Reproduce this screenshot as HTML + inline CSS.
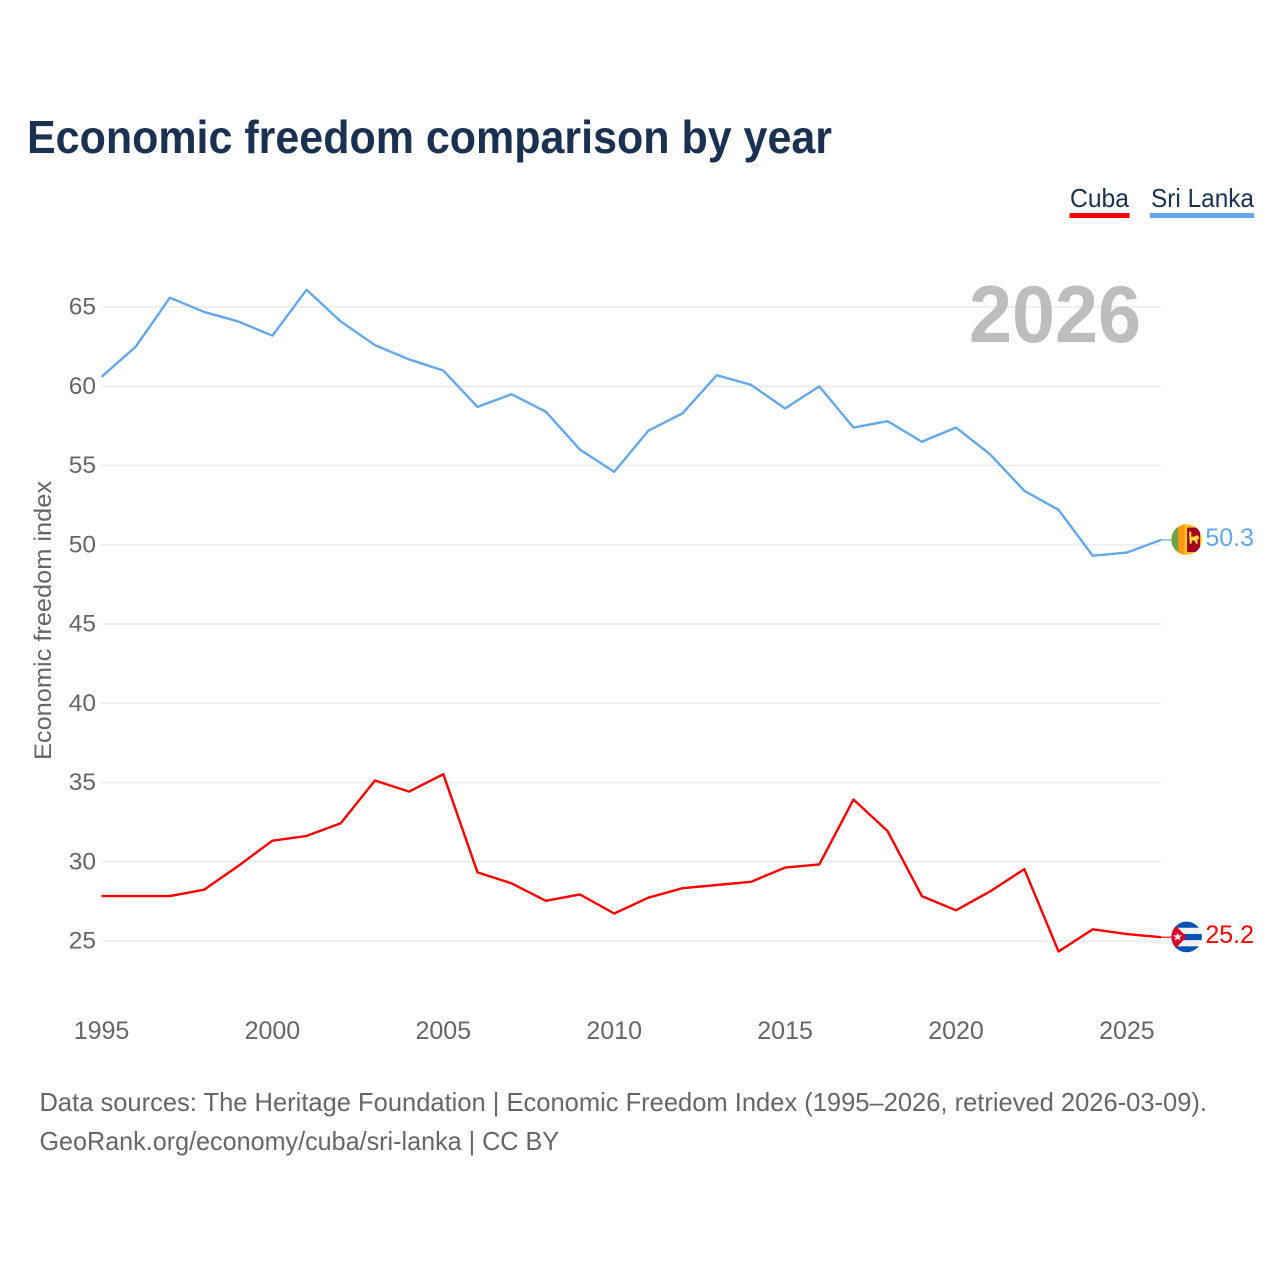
<!DOCTYPE html>
<html lang="en">
<head>
<meta charset="utf-8">
<title>Economic freedom comparison by year</title>
<style>
html,body{margin:0;padding:0;background:#fff;width:1280px;height:1280px;overflow:hidden}
svg{display:block}
text{font-family:"Liberation Sans",sans-serif}
</style>
</head>
<body>
<svg id="chart" xmlns="http://www.w3.org/2000/svg" width="1280" height="1280" viewBox="0 0 1280 1280">
  <defs>
    <clipPath id="flag-clip"><circle cx="0" cy="0" r="15.3"/></clipPath>
  </defs>
  <text x="27" y="153" font-size="46" font-weight="700" fill="#1a3152" textLength="805" lengthAdjust="spacingAndGlyphs">Economic freedom comparison by year</text>
  <g>
    <g>
      <text x="1070" y="207" font-size="26" fill="#1a3152" textLength="59" lengthAdjust="spacingAndGlyphs">Cuba</text>
      <rect x="1069.500" y="213" width="60" height="5" fill="#ff0000"/>
    </g>
    <g>
      <text x="1151" y="207" font-size="26" fill="#1a3152" textLength="103" lengthAdjust="spacingAndGlyphs">Sri Lanka</text>
      <rect x="1150" y="213" width="104" height="5" fill="#63a8ec"/>
    </g>
  </g>
  <g id="grid"></g>
  <text x="969" y="342" font-size="81" font-weight="700" fill="#bdbdbd" textLength="172" lengthAdjust="spacingAndGlyphs">2026</text>
  <g id="y-ticks"></g>
  <g id="x-ticks"></g>
  <text transform="translate(51,620.5) rotate(-90)" text-anchor="middle" font-size="24" fill="#666666" textLength="279" lengthAdjust="spacingAndGlyphs">Economic freedom index</text>
  <g id="series"></g>
  <g id="flag-sri-lanka">
    <g clip-path="url(#flag-clip)">
      <rect x="-16" y="-16" width="32" height="32" fill="#ffc629"/>
      <rect x="-16" y="-16" width="9.500" height="32" fill="#6da544"/>
      <rect x="-8.500" y="-16" width="6.500" height="32" fill="#ff9811"/>
      <rect x="0.500" y="-12" width="13" height="24.500" fill="#a2001d"/>
      <path d="M2.500-8h2.200v5h3l1-1h3l1 3-2 1 .5 4h-2l-1-3h-3v3h-2.200z" fill="#ffda44"/>
    </g>
  </g>
  <g id="flag-cuba">
    <g clip-path="url(#flag-clip)">
      <rect x="-16" y="-16" width="32" height="32" fill="#f0f0f0"/>
      <rect x="-16" y="-16" width="32" height="6.800" fill="#0052b4"/>
      <rect x="-16" y="-3" width="32" height="6.200" fill="#0052b4"/>
      <rect x="-16" y="9.400" width="32" height="6.800" fill="#0052b4"/>
      <path d="M-16-16.500L0 0L-16 16.500Z" fill="#d80027"/>
      <path d="M-9-4.500l1.200 3h3.300l-2.600 2 1 3.200-2.900-1.900-2.900 1.900 1-3.200-2.600-2h3.300z" fill="#f0f0f0"/>
    </g>
  </g>
  <g>
    <text x="39.500" y="1111" font-size="26" fill="#666666" textLength="1167.500" lengthAdjust="spacingAndGlyphs">Data sources: The Heritage Foundation | Economic Freedom Index (1995–2026, retrieved 2026-03-09).</text>
    <text x="39.500" y="1150" font-size="26" fill="#666666" textLength="519.500" lengthAdjust="spacingAndGlyphs">GeoRank.org/economy/cuba/sri-lanka | CC BY</text>
  </g>
</svg>
<script>
const years = [1995,1996,1997,1998,1999,2000,2001,2002,2003,2004,2005,2006,2007,2008,2009,2010,2011,2012,2013,2014,2015,2016,2017,2018,2019,2020,2021,2022,2023,2024,2025,2026];
const sriLankaValues = [60.6,62.5,65.6,64.7,64.1,63.2,66.1,64.1,62.6,61.7,61.0,58.7,59.5,58.4,56.0,54.6,57.2,58.3,60.7,60.1,58.6,60.0,57.4,57.8,56.5,57.4,55.7,53.4,52.2,49.3,49.5,50.3];
const cubaValues = [27.8,27.8,27.8,28.2,29.7,31.3,31.6,32.4,35.1,34.4,35.5,29.3,28.6,27.5,27.9,26.7,27.7,28.3,28.5,28.7,29.6,29.8,33.9,31.9,27.8,26.9,28.1,29.5,24.3,25.7,25.4,25.2];
const yTickValues = [25,30,35,40,45,50,55,60,65];
const xTickValues = [1995,2000,2005,2010,2015,2020,2025];

const NS = 'http://www.w3.org/2000/svg';
const xScale = function (year) { return 101.5 + (year - 1995) * 34.18; };
const yScale = function (value) { return 941 - (value - 25) * 15.85; };
const yLine = function (value) { return 940.4 - (value - 25) * 15.83; };

function make(tag, parent) {
  const el = document.createElementNS(NS, tag);
  parent.appendChild(el);
  return el;
}

const gridGroup = document.getElementById('grid');
const yTickGroup = document.getElementById('y-ticks');
yTickValues.forEach(function (value) {
  const line = make('line', gridGroup);
  
  
  line.setAttribute('x1', xScale(1995));
  line.setAttribute('x2', xScale(2026));
  line.setAttribute('y1', yScale(value));
  line.setAttribute('y2', yScale(value));
  line.setAttribute('stroke', '#ebebeb');
  line.setAttribute('stroke-width', '1.5');
  const label = make('text', yTickGroup);
  
  
  label.setAttribute('x', 96);
  label.setAttribute('y', yScale(value) + 7.5);
  label.setAttribute('text-anchor', 'end');
  label.setAttribute('font-size', '24.5');
  label.setAttribute('fill', '#666666');
  label.textContent = value;
});

const xTickGroup = document.getElementById('x-ticks');
xTickValues.forEach(function (year) {
  const label = make('text', xTickGroup);
  
  
  label.setAttribute('x', xScale(year));
  label.setAttribute('y', 1039);
  label.setAttribute('text-anchor', 'middle');
  label.setAttribute('font-size', '25');
  label.setAttribute('fill', '#666666');
  label.textContent = year;
});

const seriesGroup = document.getElementById('series');

function drawSeries(values, color, seriesName, flagId) {
  const points = values.map(function (value, i) {
    return xScale(years[i]).toFixed(2) + ',' + yLine(value).toFixed(2);
  }).join(' ');
  const lastValue = values[values.length - 1];
  const lastY = yLine(lastValue);

  const path = make('polyline', seriesGroup);
  
  
  path.setAttribute('points', points);
  path.setAttribute('fill', 'none');
  path.setAttribute('stroke', color);
  path.setAttribute('stroke-width', '2.4');
  path.setAttribute('stroke-linejoin', 'round');

  const leader = make('line', seriesGroup);
  
  
  leader.setAttribute('x1', xScale(2026));
  leader.setAttribute('x2', xScale(2026) + 10);
  leader.setAttribute('y1', lastY);
  leader.setAttribute('y2', lastY);
  leader.setAttribute('stroke', color);
  leader.setAttribute('stroke-width', '1.2');

  document.getElementById(flagId).setAttribute('transform', 'translate(1186.6,' + (lastY - 0.3) + ')');

  const label = make('text', seriesGroup);
  
  
  label.setAttribute('x', 1254);
  label.setAttribute('y', lastY + 6);
  label.setAttribute('text-anchor', 'end');
  label.setAttribute('font-size', '25');
  label.setAttribute('fill', color);
  label.textContent = lastValue.toFixed(1);
}

drawSeries(sriLankaValues, '#63a8ec', 'sri-lanka', 'flag-sri-lanka');
drawSeries(cubaValues, '#ff0000', 'cuba', 'flag-cuba');
</script>
</body>
</html>
